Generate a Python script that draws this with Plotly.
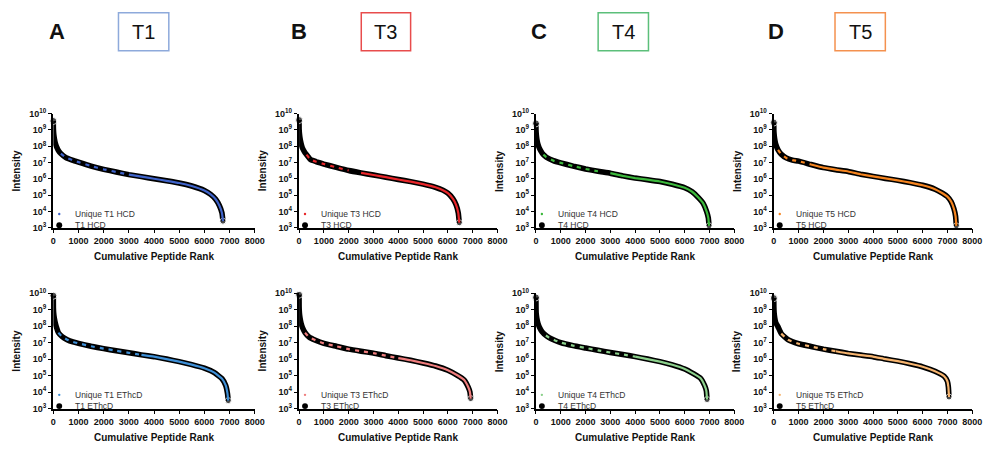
import plotly.graph_objects as go

W, H = 997, 450

# ---------------- data: cumulative peptide rank vs. intensity ----------------
t1_hcd_rank = [0, 3, 15, 40, 80, 130, 200, 300, 500, 750, 1000, 1500, 2000, 2500, 3000, 3500,
               4000, 4500, 5000, 5500, 6000, 6250, 6450, 6600, 6700, 6740]
t1_hcd_int = [3.5e9, 1.2e9, 6e8, 3e8, 1.5e8, 9e7, 5.5e7, 3.5e7, 2e7, 1.4e7, 1.05e7, 6e6, 3.8e6, 2.6e6,
              1.8e6, 1.35e6, 1e6, 7.5e5, 5.5e5, 3.6e5, 1.9e5, 1.1e5, 5.5e4, 2.2e4, 8e3, 2.5e3]

t3_hcd_rank = [0, 3, 15, 40, 80, 130, 200, 300, 460, 700, 1000, 1500, 2000, 2500, 3000, 3500,
               4000, 4500, 5000, 5500, 5800, 6000, 6200, 6330, 6420, 6460]
t3_hcd_int = [4e9, 1.1e9, 6e8, 3e8, 1.5e8, 8e7, 5e7, 3e7, 1.5e7, 1.1e7, 8e6, 5e6, 3.2e6, 2.3e6, 1.7e6,
              1.25e6, 9e5, 6.7e5, 4.7e5, 3e5, 2e5, 1.3e5, 6e4, 2.5e4, 8e3, 2e3]

t4_hcd_rank = [0, 3, 15, 40, 80, 130, 200, 300, 420, 700, 1000, 1500, 2000, 2500, 3000, 3500,
               4000, 4500, 5000, 5500, 6000, 6300, 6550, 6750, 6880, 6950, 6980]
t4_hcd_int = [2.5e9, 1e9, 5e8, 2.5e8, 1.3e8, 8e7, 5e7, 3e7, 2.1e7, 1.3e7, 9.5e6, 6e6, 4e6, 2.9e6, 2.2e6,
              1.5e6, 1.1e6, 8.8e5, 6.8e5, 4.6e5, 2.8e5, 1.6e5, 7e4, 3e4, 1e4, 4e3, 1.3e3]

t5_hcd_rank = [0, 3, 15, 40, 80, 170, 300, 500, 750, 1000, 1500, 2000, 2500, 3000, 3500, 4000,
               4500, 5000, 5500, 6000, 6500, 6800, 7000, 7150, 7260, 7330, 7360]
t5_hcd_int = [2.8e9, 9e8, 5e8, 2.5e8, 1.3e8, 6e7, 3.2e7, 1.9e7, 1.4e7, 1.2e7, 7.5e6, 4.8e6, 3.6e6, 2.8e6,
              1.9e6, 1.4e6, 1.05e6, 8e5, 5.8e5, 4e5, 2.3e5, 1.3e5, 8e4, 4e4, 1.5e4, 5e3, 1.3e3]

t1_ethcd_rank = [0, 3, 15, 40, 80, 130, 200, 350, 550, 780, 1000, 1500, 2000, 2500, 3000, 3500,
                 4000, 4500, 5000, 5500, 6000, 6400, 6700, 6850, 6920, 6950]
t1_ethcd_int = [7e9, 1.3e9, 6e8, 3e8, 1.5e8, 8e7, 4e7, 2.3e7, 1.5e7, 1.1e7, 9e6, 6e6, 4.3e6, 3.2e6,
                2.4e6, 1.8e6, 1.4e6, 1e6, 7e5, 4.6e5, 2.8e5, 1.5e5, 6.5e4, 2.5e4, 8e3, 3e3]

t3_ethcd_rank = [0, 3, 15, 40, 80, 140, 240, 400, 660, 1000, 1500, 2000, 2500, 3000, 3500, 4000,
                 4500, 5000, 5500, 6000, 6400, 6650, 6820, 6890, 6920]
t3_ethcd_int = [8e9, 1.5e9, 6e8, 3e8, 1.5e8, 8e7, 4e7, 2.2e7, 1.4e7, 9e6, 6e6, 4e6, 3e6, 2.3e6, 1.6e6,
                1.15e6, 8.5e5, 5.8e5, 3.8e5, 2.1e5, 1e5, 5.5e4, 2e4, 1e4, 4e3]

t4_ethcd_rank = [0, 3, 10, 35, 80, 150, 250, 400, 530, 750, 1000, 1500, 2000, 2500, 3000, 3500,
                 4000, 4500, 5000, 5500, 6000, 6350, 6630, 6800, 6870, 6900]
t4_ethcd_int = [5.5e9, 1.6e9, 6e8, 3e8, 1.5e8, 8e7, 4.5e7, 2.7e7, 2e7, 1.4e7, 1e7, 6.5e6, 4.7e6, 3.4e6,
                2.5e6, 1.9e6, 1.4e6, 1e6, 7e5, 4.5e5, 2.5e5, 1.3e5, 7e4, 2.5e4, 1.2e4, 3.5e3]

t5_ethcd_rank = [0, 3, 15, 40, 80, 170, 300, 570, 1000, 1500, 2000, 2500, 3000, 3500, 4000, 4500,
                 5000, 5500, 6000, 6500, 6870, 7000, 7040, 7065]
t5_ethcd_int = [5e9, 1.5e9, 6e8, 3e8, 1.6e8, 9e7, 3.5e7, 1.5e7, 8.5e6, 5.8e6, 4e6, 3e6, 2.2e6, 1.75e6,
                1.4e6, 1e6, 7.5e5, 5.2e5, 3.4e5, 1.8e5, 9e4, 4.5e4, 2e4, 5e3]

# unique peptides are spread sparsely along the upper curve, densely further down
unique_from = [300, 300, 300, 150, 200, 200, 400, 200]
unique_dense_from = [3000, 2400, 2800, 1500, 3500, 4000, 4000, 2500]

sample_names = ["T1", "T3", "T4", "T5"]
panel_letters = ["A", "B", "C", "D"]
methods = ["HCD", "EThcD"]
x_ticks = [0, 1000, 2000, 3000, 4000, 5000, 6000, 7000, 8000]
y_exponents = [3, 4, 5, 6, 7, 8, 9, 10]

hcd_colors = ["#3f63c9", "#e8262a", "#3cb83c", "#f5841f"]
ethcd_colors = ["#3e8fd6", "#ef7d7d", "#8cd08c", "#f6b46f"]
box_colors = ["#8eaadb", "#e84c4c", "#5cbf7a", "#f4914f"]

curves = [
    [(t1_hcd_rank, t1_hcd_int), (t3_hcd_rank, t3_hcd_int), (t4_hcd_rank, t4_hcd_int), (t5_hcd_rank, t5_hcd_int)],
    [(t1_ethcd_rank, t1_ethcd_int), (t3_ethcd_rank, t3_ethcd_int), (t4_ethcd_rank, t4_ethcd_int),
     (t5_ethcd_rank, t5_ethcd_int)],
]

# ---------------- layout geometry (pixels) ----------------
col_px = [(51, 255), (300, 501), (540, 741), (781, 982)]
row_px = [(109.5, 226.7), (294, 412.5)]

FONT = "Liberation Sans, Arial, sans-serif"
SMOOTH = 0.35

fig = go.Figure()
annotations = []
shapes = []


def px_x(v):
    return v / W


def px_y(v):
    return 1 - v / H


for r in range(2):
    for c in range(4):
        idx = r * 4 + c + 1
        xa = "x" if idx == 1 else f"x{idx}"
        ya = "y" if idx == 1 else f"y{idx}"
        xkey = "xaxis" if idx == 1 else f"xaxis{idx}"
        ykey = "yaxis" if idx == 1 else f"yaxis{idx}"
        x0, x1 = col_px[c]
        y0, y1 = row_px[r]

        fig.layout[xkey] = dict(
            domain=[px_x(x0), px_x(x1)], anchor=ya, range=[0, 8000],
            tickvals=x_ticks, ticktext=[str(t) for t in x_ticks],
            showline=True, linecolor="black", linewidth=1.5, mirror=False,
            ticks="outside", ticklen=3.5, tickwidth=1.3, tickcolor="black",
            showgrid=False, zeroline=False,
            tickfont=dict(family=FONT, size=9, color="#111", weight="bold"),
        )
        fig.layout[ykey] = dict(
            domain=[px_y(y1), px_y(y0)], anchor=xa, type="log", range=[3, 10],
            tickvals=[10 ** e for e in y_exponents],
            ticktext=[f"10<sup>{e}</sup>" for e in y_exponents],
            showline=True, linecolor="black", linewidth=1.5,
            ticks="outside", ticklen=3.5, tickwidth=1.3, tickcolor="black",
            showgrid=False, zeroline=False,
            tickfont=dict(family=FONT, size=9, color="#111", weight="bold"),
        )

        ranks, ints = curves[r][c]
        col = hcd_colors[c] if r == 0 else ethcd_colors[c]
        k = r * 4 + c

        # full set of identified peptides: black band
        sizes = [0] * len(ranks)
        sizes[0] = 7
        sizes[-1] = 6
        fig.add_trace(go.Scatter(
            x=ranks, y=ints, xaxis=xa, yaxis=ya, mode="lines+markers",
            line=dict(color="black", width=5.5, shape="spline", smoothing=SMOOTH),
            marker=dict(color="black", size=sizes), cliponaxis=False,
            showlegend=False, hoverinfo="skip",
        ))

        # unique peptides: coloured overlay
        sparse = [(x, y) for x, y in zip(ranks, ints) if unique_from[k] <= x <= unique_dense_from[k]]
        dense = [(x, y) for x, y in zip(ranks, ints) if x >= unique_dense_from[k]]
        if sparse:
            fig.add_trace(go.Scatter(
                x=[p[0] for p in sparse], y=[p[1] for p in sparse], xaxis=xa, yaxis=ya, mode="lines",
                line=dict(color=col, width=2.2, dash="4px,5px", shape="spline", smoothing=SMOOTH),
                showlegend=False, hoverinfo="skip",
            ))
        fig.add_trace(go.Scatter(
            x=[p[0] for p in dense], y=[p[1] for p in dense], xaxis=xa, yaxis=ya, mode="lines",
            line=dict(color=col, width=2.2, shape="spline", smoothing=SMOOTH),
            showlegend=False, hoverinfo="skip",
        ))

        # axis titles
        annotations.append(dict(
            text="Intensity", xref="paper", yref="paper", x=px_x(x0 - 37), y=px_y((y0 + y1) / 2),
            textangle=-90, showarrow=False, xanchor="center", yanchor="middle",
            font=dict(family=FONT, size=10, color="#111", weight="bold"),
        ))
        annotations.append(dict(
            text="Cumulative Peptide Rank", xref="paper", yref="paper",
            x=px_x((x0 + x1) / 2), y=px_y(y1 + 30), showarrow=False,
            xanchor="center", yanchor="middle",
            font=dict(family=FONT, size=10, color="#111", weight="bold"),
        ))

        # in-panel key
        ly1 = y1 - 14
        ly2 = y1 - 2.5
        dx = x0 + 6
        shapes.append(dict(type="circle", xref="paper", yref="paper",
                           x0=px_x(dx - 1.2), x1=px_x(dx + 1.2), y0=px_y(ly1 + 1.2), y1=px_y(ly1 - 1.2),
                           fillcolor=col, line=dict(width=0)))
        shapes.append(dict(type="circle", xref="paper", yref="paper",
                           x0=px_x(dx - 3), x1=px_x(dx + 3), y0=px_y(ly2 + 3), y1=px_y(ly2 - 3),
                           fillcolor="black", line=dict(width=0)))
        name = f"{sample_names[c]} {methods[r]}"
        for txt, yy in ((f"Unique {name}", ly1), (name, ly2)):
            annotations.append(dict(
                text=txt, xref="paper", yref="paper", x=px_x(x0 + 20), y=px_y(yy),
                showarrow=False, xanchor="left", yanchor="middle",
                font=dict(family=FONT, size=8.5, color="#333"),
            ))

# column headers: panel letter and boxed sample name
letter_x = [55, 300, 543, 783]
box_px = [(117, 168), (363, 413), (603, 654), (843, 894)]
for c in range(4):
    annotations.append(dict(
        text=panel_letters[c], xref="paper", yref="paper", x=px_x(letter_x[c]), y=px_y(25),
        showarrow=False, xanchor="center", yanchor="middle",
        font=dict(family=FONT, size=22, color="#111", weight="bold"),
    ))
    bx0, bx1 = box_px[c]
    shapes.append(dict(type="rect", xref="paper", yref="paper",
                       x0=px_x(bx0), x1=px_x(bx1), y0=px_y(45), y1=px_y(6),
                       line=dict(color=box_colors[c], width=1.5), fillcolor="rgba(0,0,0,0)"))
    annotations.append(dict(
        text=sample_names[c], xref="paper", yref="paper", x=px_x((bx0 + bx1) / 2), y=px_y(26),
        showarrow=False, xanchor="center", yanchor="middle",
        font=dict(family=FONT, size=20, color="#111"),
    ))

fig.update_layout(
    width=W, height=H, margin=dict(l=0, r=0, t=0, b=0),
    paper_bgcolor="white", plot_bgcolor="white",
    annotations=annotations, shapes=shapes, showlegend=False,
)

fig.write_html("out.html")
